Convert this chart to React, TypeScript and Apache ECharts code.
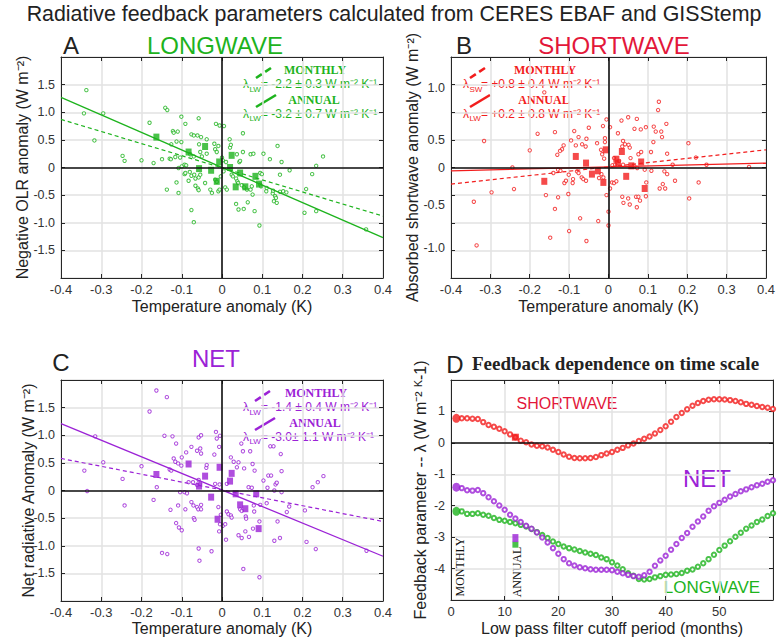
import React, { useEffect, useRef } from 'react';
import * as echarts from 'echarts';

// ---------------- DATA ----------------
const FIT_X = [-0.4, 0.4];

// Panel A: longwave (negative OLR anomaly) vs temperature anomaly
const LW_MONTHLY: [number, number][] = [
  [-0.337, 1.40], [-0.343, 0.98], [-0.317, 0.49], [-0.295, 0.98], [-0.247, 0.21], [-0.242, 0.12], [-0.200, 0.13],
  [-0.180, 0.81], [-0.170, 0.08], [-0.149, 0.15], [-0.141, 1.08], [-0.136, 1.04], [-0.137, -0.40], [-0.130, 0.16],
  [-0.127, 0.15], [-0.126, 0.42], [-0.122, 0.66], [-0.120, 0.63], [-0.116, 0.19], [-0.113, 0.47], [-0.113, -0.27],
  [-0.110, 0.65], [-0.108, -0.01], [-0.108, -0.46], [-0.104, 0.18], [-0.101, 0.92], [-0.101, 0.46], [-0.100, 0.02],
  [-0.093, 0.05], [-0.093, -0.12], [-0.091, 0.79], [-0.091, -0.10], [-0.089, 0.04], [-0.083, -0.24], [-0.080, -0.08],
  [-0.079, 0.24], [-0.076, 0.60], [-0.076, -0.15], [-0.076, -0.77], [-0.070, 0.58], [-0.070, 0.20], [-0.070, -0.99],
  [-0.069, -0.13], [-0.066, -0.20], [-0.066, -0.33], [-0.061, 0.58], [-0.060, -0.38], [-0.058, 0.89], [-0.058, -0.18],
  [-0.058, -0.41], [-0.057, 0.42], [-0.054, 0.28], [-0.054, -0.13], [-0.052, 0.55], [-0.050, 0.20], [-0.042, -0.28],
  [-0.038, 0.51], [-0.038, 0.25], [-0.029, -0.40], [-0.025, -0.46], [-0.019, 0.43], [-0.017, 0.33], [-0.017, -0.22],
  [-0.015, 0.79], [-0.013, 0.28], [-0.013, -0.26], [-0.009, 0.39], [-0.009, -0.43], [-0.006, 0.76], [-0.006, -0.40],
  [-0.003, -0.16], [0.000, 0.18], [0.002, 0.13], [0.004, -0.07], [0.005, 0.75], [0.008, -0.36], [0.010, 0.10],
  [0.012, -0.40], [0.019, 0.51], [0.020, 0.36], [0.022, 0.41], [0.024, -0.13], [0.027, -0.16], [0.035, -0.20],
  [0.035, -0.66], [0.037, 0.24], [0.038, -0.25], [0.040, -0.28], [0.041, -0.76], [0.043, 0.10], [0.045, 0.12],
  [0.049, -0.32], [0.052, 0.62], [0.052, 0.28], [0.054, -0.75], [0.055, -0.36], [0.062, -0.40], [0.064, -0.63],
  [0.071, 0.24], [0.071, -0.40], [0.074, -0.34], [0.076, -0.49], [0.078, 0.25], [0.081, -0.79], [0.093, -1.05],
  [0.095, -0.10], [0.095, -0.31], [0.097, -0.34], [0.099, -0.12], [0.103, 0.25], [0.110, -0.43], [0.111, -0.37],
  [0.119, 0.15], [0.126, -0.47], [0.127, -0.42], [0.129, -0.61], [0.132, -0.52], [0.134, -0.55], [0.136, -0.64],
  [0.138, 0.39], [0.144, -0.13], [0.144, -0.44], [0.148, 0.10], [0.152, -0.43], [0.160, -0.45], [0.168, -0.05],
  [0.205, -0.82], [0.209, -0.39], [0.224, -0.12], [0.234, 0.03], [0.234, -0.79], [0.251, 0.20], [0.358, -1.12],
];
const LW_ANNUAL: [number, number][] = [
  [-0.163, 0.55], [-0.083, 0.28], [-0.042, 0.38], [-0.057, -0.02], [-0.027, -0.05], [-0.013, -0.25], [-0.007, 0.10],
  [0.024, 0.22], [0.020, 0.00], [0.045, -0.10], [0.034, -0.35], [0.058, -0.35], [0.083, -0.16], [0.092, -0.30],
];
const LW_FIT_MONTHLY = [0.87, -0.88];
const LW_FIT_ANNUAL = [1.27, -1.27];

// Panel B: shortwave
const SW_MONTHLY: [number, number][] = [
  [0.128, 1.19], [0.126, 1.04], [-0.163, 1.36], [0.050, 0.91], [0.072, 0.88], [0.033, 0.85], [-0.005, 0.87],
  [0.004, 0.73], [-0.014, 0.75], [0.066, 0.70], [0.082, 0.69], [0.095, 0.73], [0.115, 0.74], [0.120, 0.65],
  [0.134, 0.65], [0.147, 0.79], [0.024, 0.62], [-0.050, 0.72], [-0.087, 0.66], [-0.136, 0.64], [-0.180, 0.61],
  [-0.076, 0.55], [-0.056, 0.52], [-0.095, 0.49], [-0.009, 0.53], [-0.009, 0.46], [-0.029, 0.44], [-0.083, 0.40],
  [-0.114, 0.40], [-0.118, 0.33], [-0.123, 0.30], [-0.130, 0.23], [-0.200, 0.31], [-0.058, 0.38], [-0.067, 0.42],
  [0.037, 0.48], [0.042, 0.42], [0.051, 0.41], [0.054, 0.36], [0.035, 0.38], [0.076, 0.24], [0.083, 0.28],
  [0.108, 0.28], [0.114, 0.46], [0.136, 0.55], [0.149, 0.25], [-0.019, 0.32], [-0.016, 0.24], [-0.011, 0.16],
  [0.014, 0.17], [0.056, 0.17], [0.010, 0.04], [0.017, 0.05], [0.027, 0.12], [0.037, 0.05], [0.066, 0.02],
  [0.073, -0.01], [0.092, -0.04], [0.109, -0.06], [0.142, -0.07], [0.163, 0.05], [0.149, -0.12], [0.169, -0.24],
  [0.138, -0.30], [0.144, -0.38], [0.130, -0.38], [0.096, -0.27], [0.095, -0.52], [0.070, -0.53], [0.076, -0.53],
  [0.080, -0.60], [0.050, -0.56], [0.054, -0.67], [0.035, -0.53], [0.038, -0.64], [0.072, -0.72], [0.009, -0.27],
  [0.014, -0.28], [0.020, -0.25], [0.004, -0.38], [-0.005, -0.50], [0.000, -0.80], [0.000, -1.05], [-0.026, -0.97],
  [-0.056, -1.33], [-0.100, -1.15], [-0.072, -0.92], [-0.148, -1.27], [-0.136, -0.75], [-0.128, -0.54],
  [-0.159, -0.50], [-0.102, -0.48], [-0.112, -0.28], [-0.108, -0.24], [-0.090, -0.21], [-0.091, -0.28],
  [-0.101, -0.13], [-0.068, -0.18], [-0.064, -0.21], [-0.057, -0.24], [-0.080, -0.07], [-0.076, -0.10],
  [-0.128, -0.04], [-0.122, -0.06], [-0.140, -0.10], [-0.240, -0.39], [-0.297, -0.45], [-0.024, -0.19],
  [-0.018, -0.12], [-0.013, -0.18], [-0.316, 0.48], [-0.244, 0.00], [-0.342, -0.62], [-0.335, -1.41],
  [0.203, 0.44], [0.222, 0.18], [0.249, 0.05], [0.229, -0.27], [0.205, -0.56], [0.357, 0.01],
];
const SW_ANNUAL: [number, number][] = [
  [-0.163, -0.25], [-0.083, 0.20], [-0.042, -0.12], [-0.057, 0.08], [-0.027, -0.06], [-0.013, -0.27], [-0.007, 0.32],
  [0.024, 0.08], [0.020, 0.15], [0.045, -0.16], [0.034, 0.29], [0.058, 0.03], [0.083, 0.10], [0.092, -0.38],
];
const SW_FIT_MONTHLY = [-0.30, 0.32];
const SW_FIT_ANNUAL = [-0.06, 0.08];

// Panel C: net
const NET_MONTHLY: [number, number][] = [
  [-0.342, 0.36], [-0.335, -0.01], [-0.315, 0.98], [-0.295, 0.51], [-0.247, 0.21], [-0.242, -0.27], [-0.200, 0.44],
  [-0.180, 1.43], [-0.170, -0.17], [-0.163, 1.81], [-0.162, 0.06], [-0.149, -1.13], [-0.143, 0.99], [-0.137, 1.69],
  [-0.136, -1.15], [-0.130, 0.38], [-0.128, -0.35], [-0.126, 0.36], [-0.123, 0.98], [-0.120, 0.58], [-0.116, 0.52],
  [-0.114, 0.85], [-0.114, -0.59], [-0.109, 0.49], [-0.109, -0.27], [-0.107, -0.67], [-0.104, -0.03], [-0.101, 0.45],
  [-0.100, 0.60], [-0.100, -0.72], [-0.093, -0.03], [-0.091, -0.34], [-0.089, 0.69], [-0.087, -0.05], [-0.083, 0.15],
  [-0.076, 0.79], [-0.076, -0.21], [-0.072, 0.15], [-0.071, -0.27], [-0.070, -0.50], [-0.068, -0.53], [-0.062, 0.72],
  [-0.062, 0.10], [-0.062, -0.30], [-0.059, -0.34], [-0.058, 0.96], [-0.058, 0.19], [-0.058, -1.05], [-0.056, -1.27],
  [-0.054, 0.76], [-0.054, 0.12], [-0.052, 1.00], [-0.052, 0.67], [-0.052, -0.26], [-0.052, -0.34], [-0.039, 0.41],
  [-0.038, 0.46], [-0.026, -1.10], [-0.019, 0.65], [-0.017, 0.12], [-0.015, 1.06], [-0.013, 0.94], [-0.009, -0.30],
  [-0.007, 0.79], [-0.007, -0.74], [-0.006, 0.11], [-0.005, 0.99], [-0.005, -0.61], [-0.003, -0.44], [0.002, -0.64],
  [0.008, -0.61], [0.010, -0.89], [0.012, 0.12], [0.012, -0.38], [0.016, -0.43], [0.022, 0.60], [0.022, -0.45],
  [0.024, -0.49], [0.029, 0.52], [0.037, 0.42], [0.041, 0.51], [0.041, -0.81], [0.045, -0.34], [0.048, 0.85],
  [0.049, -0.37], [0.049, -0.86], [0.052, 0.71], [0.053, -1.42], [0.055, 0.40], [0.058, -0.74], [0.059, -0.47],
  [0.060, -0.51], [0.066, 0.06], [0.067, -0.84], [0.070, 0.71], [0.074, 0.05], [0.076, 0.48], [0.077, -0.69],
  [0.079, -0.27], [0.080, -0.38], [0.081, 0.36], [0.093, -0.56], [0.093, -1.57], [0.095, -0.26], [0.103, 0.18],
  [0.111, -0.23], [0.113, 0.05], [0.115, 0.27], [0.120, 0.80], [0.122, 0.27], [0.128, 0.80], [0.130, 0.00],
  [0.130, -0.91], [0.133, 0.11], [0.136, 0.14], [0.138, -0.56], [0.144, -0.86], [0.146, 0.66], [0.148, 0.35],
  [0.148, -0.03], [0.161, -0.39], [0.167, -0.29], [0.206, -0.36], [0.210, -0.93], [0.225, 0.06], [0.233, -1.06],
  [0.238, 0.15], [0.252, 0.26], [0.359, -1.09],
];
const NET_ANNUAL: [number, number][] = [
  [-0.163, 0.29], [-0.083, 0.48], [-0.042, 0.26], [-0.057, 0.08], [-0.027, -0.12], [-0.011, -0.52], [-0.006, 0.42],
  [0.024, 0.31], [0.020, 0.17], [0.045, -0.26], [0.034, -0.06], [0.058, -0.33], [0.085, -0.06], [0.091, -0.69],
];
const NET_FIT_MONTHLY = [0.58, -0.56];
const NET_FIT_ANNUAL = [1.21, -1.19];

// Panel B y-axis tick labels (as printed in the reference)
const B_Y_TICK_VALUES = [1.43, 0.5, 0, -0.68, -1.46];
const B_Y_TICK_LABELS = ['1.0', '0.5', '0', '-0.5', '-1.0'];

// Panel D: feedback parameter vs low-pass cutoff period (months)
const PERIODS = [
  2, 3, 4, 5, 6, 7, 8, 9, 10, 11, 12, 13, 14, 15, 16, 17, 18, 19, 20, 21, 22, 23, 24, 25, 26, 27, 28, 29, 30,
  31, 32, 33, 34, 35, 36, 37, 38, 39, 40, 41, 42, 43, 44, 45, 46, 47, 48, 49, 50, 51, 52, 53, 54, 55, 56, 57, 58, 59, 60,
];
const SW_LAMBDA = [
  0.78, 0.78, 0.77, 0.76, 0.66, 0.57, 0.51, 0.45, 0.37, 0.27, 0.18, 0.07, 0.02, -0.05, -0.09, -0.11, -0.15, -0.22,
  -0.29, -0.37, -0.44, -0.48, -0.49, -0.49, -0.48, -0.45, -0.39, -0.34, -0.29, -0.22, -0.16, -0.08, -0.02, 0.06,
  0.13, 0.20, 0.30, 0.41, 0.53, 0.67, 0.82, 0.95, 1.07, 1.18, 1.27, 1.33, 1.37, 1.39, 1.39, 1.38, 1.36, 1.33, 1.29,
  1.24, 1.21, 1.17, 1.14, 1.12, 1.08,
];
const NET_LAMBDA = [
  -1.44, -1.51, -1.52, -1.50, -1.60, -1.73, -1.86, -1.99, -2.13, -2.29, -2.41, -2.52, -2.64, -2.73, -2.85, -3.01,
  -3.17, -3.35, -3.53, -3.70, -3.83, -3.90, -3.96, -3.99, -4.02, -4.04, -4.04, -4.04, -4.05, -4.10, -4.15, -4.20,
  -4.24, -4.26, -4.21, -4.10, -3.91, -3.74, -3.59, -3.40, -3.22, -3.03, -2.87, -2.67, -2.50, -2.34, -2.16, -2.02,
  -1.91, -1.81, -1.71, -1.63, -1.54, -1.48, -1.41, -1.35, -1.30, -1.24, -1.19,
];
const LW_LAMBDA = [
  -2.18, -2.26, -2.26, -2.24, -2.29, -2.32, -2.39, -2.45, -2.48, -2.52, -2.56, -2.61, -2.66, -2.74, -2.84, -2.93,
  -3.03, -3.14, -3.22, -3.30, -3.35, -3.39, -3.44, -3.49, -3.53, -3.57, -3.65, -3.70, -3.80, -3.90, -4.02, -4.15,
  -4.23, -4.33, -4.35, -4.33, -4.28, -4.24, -4.20, -4.19, -4.17, -4.14, -4.07, -4.03, -3.94, -3.83, -3.70, -3.56,
  -3.41, -3.27, -3.13, -2.99, -2.86, -2.73, -2.63, -2.52, -2.44, -2.33, -2.24,
];
const MONTHLY_PERIOD = 1;
const MONTHLY_LAMBDA = { sw: 0.78, net: -1.41, lw: -2.18 };
const ANNUAL_PERIOD = 12;
const ANNUAL_LAMBDA = { sw: 0.18, net: -3.03, lw: -3.24 };

// ---------------- STYLE ----------------
const GREEN = '#1db31d';
const RED = '#f21d1d';
const RED_TITLE = '#e3173a';
const PURPLE = '#9b22d6';
const AX = '#262626';
const GRIDC = '#e2e2e2';
const SANS = '"Liberation Sans", Arial, sans-serif';
const SERIF = '"Liberation Serif", "Times New Roman", serif';

const fmt1 = (v: number) => (Math.abs(v) < 1e-9 ? '0' : v.toFixed(1));

function axesFor(g: number, o: any) {
  const common = (extra: any) => ({
    type: 'value',
    gridIndex: g,
    axisLine: { onZero: false, lineStyle: { color: AX, width: 1 } },
    axisTick: { inside: true, length: 4, lineStyle: { color: AX, width: 1 } },
    ...extra,
  });
  const x = [
    common({
      min: o.xmin, max: o.xmax, interval: o.xint, position: 'bottom',
      axisLabel: { color: '#333', fontSize: 13, margin: 5, fontFamily: SANS, formatter: o.xfmt },
      splitLine: { show: true, lineStyle: { color: GRIDC, width: 1.5 } },
      name: o.xname, nameLocation: 'middle', nameGap: o.xgap, nameMoveOverlap: false,
      nameTextStyle: { fontSize: 16, color: '#222', fontFamily: SANS },
    }),
    common({ min: o.xmin, max: o.xmax, interval: o.xint, position: 'top', axisLabel: { show: false }, splitLine: { show: false } }),
  ];
  const y = [
    common({
      min: o.ymin, max: o.ymax, interval: o.yint, position: 'left',
      axisLabel: { color: '#333', fontSize: 12.5, margin: 6, fontFamily: SANS, formatter: o.yfmt, ...(o.ylabelExtra || {}) },
      splitLine: { show: true, lineStyle: { color: GRIDC, width: 1.5 } },
      name: o.yname, nameLocation: 'middle', nameGap: o.ygap, nameMoveOverlap: false,
      nameTextStyle: { fontSize: 16, color: '#222', fontFamily: SANS },
    }),
    common({ min: o.ymin, max: o.ymax, interval: o.yint, position: 'right', axisLabel: { show: false }, splitLine: { show: false } }),
  ];
  return { x, y };
}

const scatterFmtY = (v: number) => (Math.abs(Math.abs(v) - 2) < 1e-9 ? '' : fmt1(v));

function scatterPanel(g: number, color: string, monthly: [number, number][], annual: [number, number][], fitM: number[], fitA: number[]) {
  const xi = 2 * g;
  return [
    {
      type: 'line', xAxisIndex: xi, yAxisIndex: xi, symbol: 'none', silent: true,
      data: FIT_X.map((x, i) => [x, fitA[i]]),
      lineStyle: { color, width: 1.3 },
      markLine: {
        silent: true, symbol: ['none', 'none'], label: { show: false },
        lineStyle: { color: '#111', width: 1.6, type: 'solid' }, data: [{ yAxis: 0 }, { xAxis: 0 }],
      },
    },
    {
      type: 'line', xAxisIndex: xi, yAxisIndex: xi, symbol: 'none', silent: true,
      data: FIT_X.map((x, i) => [x, fitM[i]]),
      lineStyle: { color, width: 1.2, type: [4, 3] },
    },
    {
      type: 'scatter', xAxisIndex: xi, yAxisIndex: xi, silent: true, symbol: 'circle', symbolSize: 3.4,
      data: monthly, itemStyle: { color: '#ffffff', borderColor: color, borderWidth: 1 },
    },
    {
      type: 'scatter', xAxisIndex: xi, yAxisIndex: xi, silent: true, symbol: 'rect', symbolSize: [6, 7],
      data: annual, itemStyle: { color },
    },
  ];
}

function txt(x: number, y: number, text: string, font: string, fill: string, align = 'center', rotation = 0) {
  return {
    type: 'text', x, y, rotation, silent: true,
    style: { text, font, fill, align, verticalAlign: 'middle', textAlign: align, textVerticalAlign: 'middle' },
  };
}
function seg(x1: number, y1: number, x2: number, y2: number, stroke: string, dashed: boolean) {
  return {
    type: 'line', silent: true, shape: { x1, y1, x2, y2 },
    style: { stroke, lineWidth: 2.6, ...(dashed ? { lineDash: [7, 4] } : {}) },
  };
}

function legendBlock(x0: number, y0: number, color: string, segDx: number, labDx: number,
  sym1: string, l1: string, sym2: string, l2: string) {
  return [
    seg(x0 + segDx, y0 - 6, x0 + segDx + 18, y0 - 18, color, true),
    txt(x0 + labDx, y0 - 14, 'MONTHLY', `bold 12px ${SERIF}`, color),
    txt(x0, y0, 'λ', `12px ${SANS}`, color, 'left'),
    txt(x0 + 6.5, y0 + 5, sym1, `8px ${SANS}`, color, 'left'),
    txt(x0 + 18, y0, `= ${l1} W m⁻² K⁻¹`, `12px ${SANS}`, color, 'left'),
    seg(x0 + segDx, y0 + 23, x0 + segDx + 20, y0 + 11, color, false),
    txt(x0 + labDx - 1, y0 + 15.5, 'ANNUAL', `bold 12px ${SERIF}`, color),
    txt(x0, y0 + 29.5, 'λ', `12px ${SANS}`, color, 'left'),
    txt(x0 + 6.5, y0 + 34.5, sym2, `8px ${SANS}`, color, 'left'),
    txt(x0 + 18, y0 + 29.5, `= ${l2} W m⁻² K⁻¹`, `12px ${SANS}`, color, 'left'),
  ];
}

function buildOption() {
  const A = axesFor(0, {
    xmin: -0.4, xmax: 0.4, xint: 0.1, xfmt: fmt1, xname: 'Temperature anomaly (K)', xgap: 20,
    ymin: -2, ymax: 2, yint: 0.5, yfmt: scatterFmtY, yname: 'Negative OLR anomaly (W m⁻²)', ygap: 31,
  });
  const B = axesFor(1, {
    xmin: -0.4, xmax: 0.4, xint: 0.1, xfmt: fmt1, xname: 'Temperature anomaly (K)', xgap: 20,
    ymin: -2, ymax: 2, yint: 0.5, yname: 'Absorbed shortwave anomaly (W m⁻²)', ygap: 31,
    yfmt: (v: number) => {
      const i = B_Y_TICK_VALUES.findIndex((t) => Math.abs(t - v) < 1e-6);
      return i >= 0 ? B_Y_TICK_LABELS[i] : '';
    },
    ylabelExtra: { customValues: B_Y_TICK_VALUES },
  });
  const C = axesFor(2, {
    xmin: -0.4, xmax: 0.4, xint: 0.1, xfmt: fmt1, xname: 'Temperature anomaly (K)', xgap: 19,
    ymin: -2, ymax: 2, yint: 0.5, yfmt: scatterFmtY, yname: 'Net radiative Anomaly (W m⁻²)', ygap: 25,
  });
  const D = axesFor(3, {
    xmin: 0, xmax: 60, xint: 10, xfmt: (v: number) => (v >= 60 ? '' : String(v)), xname: 'Low pass filter cutoff period (months)', xgap: 20,
    ymin: -5, ymax: 2, yint: 1, yfmt: (v: number) => (v >= 2 || v <= -5 ? '' : String(v)),
    yname: 'Feedback parameter -- λ (W m⁻² ᴷ-1)', ygap: 23,
  });

  const curve = (vals: number[], color: string) => ({
    type: 'scatter', xAxisIndex: 6, yAxisIndex: 6, silent: true, symbol: 'emptyCircle', symbolSize: 4.4,
    data: PERIODS.map((p, i) => [p, vals[i]]),
    itemStyle: { color, borderColor: color, borderWidth: 0.8 },
  });

  const series: any[] = [
    ...scatterPanel(0, GREEN, LW_MONTHLY, LW_ANNUAL, LW_FIT_MONTHLY, LW_FIT_ANNUAL),
    ...scatterPanel(1, RED, SW_MONTHLY, SW_ANNUAL, SW_FIT_MONTHLY, SW_FIT_ANNUAL),
    ...scatterPanel(2, PURPLE, NET_MONTHLY, NET_ANNUAL, NET_FIT_MONTHLY, NET_FIT_ANNUAL),
    {
      type: 'line', xAxisIndex: 6, yAxisIndex: 6, data: [], symbol: 'none', silent: true,
      markLine: {
        silent: true, symbol: ['none', 'none'], label: { show: false },
        lineStyle: { color: '#111', width: 1.6, type: 'solid' }, data: [{ yAxis: 0 }],
      },
    },
    curve(SW_LAMBDA, RED),
    curve(LW_LAMBDA, GREEN),
    curve(NET_LAMBDA, PURPLE),
    {
      type: 'scatter', xAxisIndex: 6, yAxisIndex: 6, silent: true, symbol: 'circle', symbolSize: [8, 9],
      data: [
        { value: [MONTHLY_PERIOD, MONTHLY_LAMBDA.sw], itemStyle: { color: RED } },
        { value: [MONTHLY_PERIOD, MONTHLY_LAMBDA.net], itemStyle: { color: PURPLE } },
        { value: [MONTHLY_PERIOD, MONTHLY_LAMBDA.lw], itemStyle: { color: GREEN } },
      ],
    },
    {
      type: 'scatter', xAxisIndex: 6, yAxisIndex: 6, silent: true, symbol: 'rect',
      data: [
        { value: [ANNUAL_PERIOD, ANNUAL_LAMBDA.sw], itemStyle: { color: RED }, symbolSize: [7, 7] },
        { value: [ANNUAL_PERIOD, ANNUAL_LAMBDA.lw], itemStyle: { color: GREEN }, symbolSize: [6, 6] },
        { value: [ANNUAL_PERIOD, ANNUAL_LAMBDA.net], itemStyle: { color: PURPLE }, symbolSize: [6, 8] },
      ],
    },
  ];

  const graphic: any[] = [
    txt(394, 14, 'Radiative feedback parameters calculated from CERES EBAF and GISStemp', `21.4px ${SANS}`, '#222'),
    txt(71, 45, 'A', `24px ${SANS}`, '#222'),
    txt(215, 45, 'LONGWAVE', `24px ${SANS}`, GREEN),
    txt(464, 45, 'B', `24px ${SANS}`, '#222'),
    txt(614, 45, 'SHORTWAVE', `24px ${SANS}`, RED_TITLE),
    txt(61, 362, 'C', `24px ${SANS}`, '#222'),
    txt(216, 358, 'NET', `24px ${SANS}`, PURPLE),
    txt(455, 364, 'D', `24px ${SANS}`, '#222'),
    txt(472, 363, 'Feedback dependence on time scale', `bold 19px ${SERIF}`, '#222', 'left'),
    ...legendBlock(243, 84, GREEN, 13, 72, 'LW', '-2.2 ± 0.3', 'LW', '-3.2 ± 0.7'),
    ...legendBlock(463, 84, RED, 7, 82, 'SW', '+0.8 ± 0.4', 'LW', '+0.2 ± 0.8'),
    ...legendBlock(243, 407, PURPLE, 12, 73, 'LW', '-1.4 ± 0.4', 'LW', '-3.0± 1.1'),
    txt(567, 403, 'SHORTWAVE', `16px ${SANS}`, RED_TITLE),
    txt(707, 478, 'NET', `24px ${SANS}`, PURPLE),
    txt(712, 587, 'LONGWAVE', `17px ${SANS}`, GREEN),
    txt(460, 567, 'MONTHLY', `12px ${SERIF}`, '#111', 'center', Math.PI / 2),
    txt(517, 572, 'ANNUAL', `12px ${SERIF}`, '#111', 'center', Math.PI / 2),
  ];

  return {
    animation: false,
    backgroundColor: '#ffffff',
    grid: [
      { left: 61, top: 57, width: 322, height: 221 },
      { left: 451, top: 57, width: 322, height: 221 },
      { left: 61, top: 380, width: 322, height: 221 },
      { left: 451, top: 380, width: 322, height: 220 },
    ],
    xAxis: [...A.x, ...B.x, ...C.x, ...D.x],
    yAxis: [...A.y, ...B.y, ...C.y, ...D.y],
    series,
    graphic,
  };
}

export default function App() {
  const ref = useRef<HTMLDivElement>(null);
  useEffect(() => {
    if (!ref.current) return;
    const chart = echarts.init(ref.current, null, { renderer: 'svg' });
    chart.setOption(buildOption() as any);
    return () => chart.dispose();
  }, []);
  return (
    <div
      ref={ref}
      style={{ position: 'fixed', left: 0, top: 0, width: 778, height: 642, background: '#fff' }}
    />
  );
}
